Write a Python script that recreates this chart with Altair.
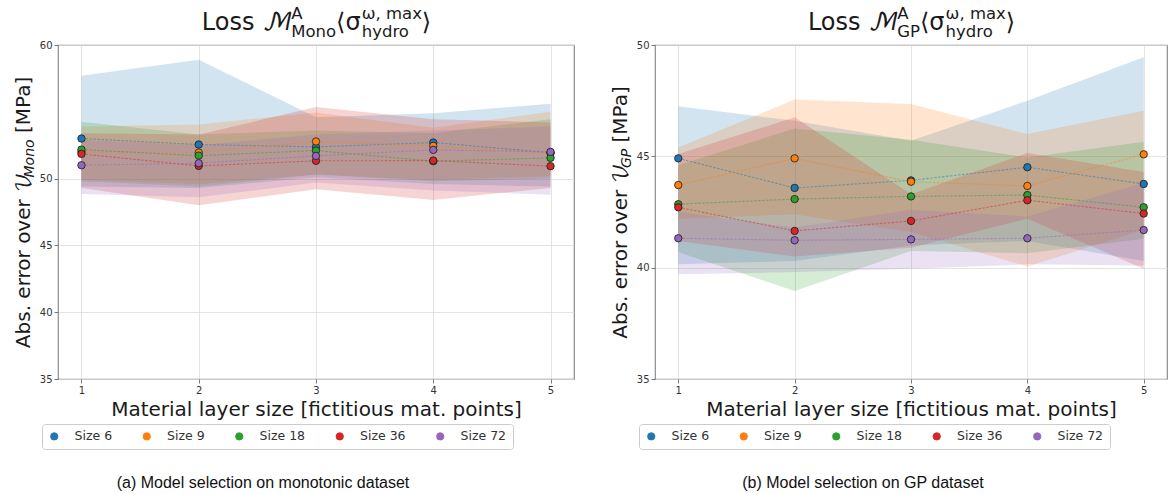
import altair as alt
import pandas as pd

series_names = ["Size 6", "Size 9", "Size 18", "Size 36", "Size 72"]
series_colors = ["#1f77b4", "#ff7f0e", "#2ca02c", "#d62728", "#9467bd"]
layer_sizes = [1, 2, 3, 4, 5]

# Monotonic dataset: mean absolute error and band limits, one row per network size
mono_mean = [
    [53.00, 52.55, 52.37, 52.70, 51.95],
    [52.00, 51.95, 52.78, 52.45, 51.90],
    [52.17, 51.72, 52.10, 51.30, 51.55],
    [51.85, 50.95, 51.33, 51.35, 50.93],
    [51.00, 51.15, 51.70, 52.15, 52.00],
]
mono_upper = [
    [57.70, 58.90, 54.60, 54.90, 55.60],
    [53.90, 54.05, 54.95, 53.80, 55.00],
    [54.25, 53.30, 53.60, 53.40, 54.45],
    [53.40, 53.30, 55.35, 54.45, 54.20],
    [52.90, 52.50, 53.30, 53.60, 53.90],
]
mono_lower = [
    [49.40, 49.30, 50.10, 49.60, 49.40],
    [49.90, 49.60, 50.30, 49.90, 50.20],
    [49.80, 49.40, 50.30, 49.80, 50.00],
    [49.30, 48.00, 49.20, 48.40, 49.30],
    [48.85, 48.60, 49.70, 49.10, 48.80],
]

# GP dataset
gp_mean = [
    [44.91, 43.58, 43.92, 44.51, 43.76],
    [43.71, 44.91, 43.86, 43.67, 45.09],
    [42.85, 43.08, 43.20, 43.26, 42.71],
    [42.71, 41.65, 42.10, 43.03, 42.43],
    [41.32, 41.23, 41.27, 41.32, 41.69],
]
gp_upper = [
    [47.25, 46.60, 45.70, 47.50, 49.45],
    [45.40, 47.55, 47.35, 46.00, 47.05],
    [44.60, 46.25, 45.75, 44.95, 45.65],
    [45.10, 46.75, 43.30, 45.15, 44.30],
    [42.50, 41.80, 42.60, 42.30, 43.80],
]
gp_lower = [
    [40.15, 40.30, 41.00, 41.20, 40.30],
    [42.20, 42.40, 41.60, 40.05, 41.70],
    [40.70, 38.95, 40.75, 40.65, 41.30],
    [41.20, 40.50, 40.90, 42.20, 39.95],
    [39.70, 39.80, 39.95, 40.15, 40.10],
]

mono_ticks = [35, 40, 45, 50, 60]
gp_ticks = [35, 40, 45, 50]

FONT = "DejaVu Sans"
MATH_FONT = "DejaVu Math TeX Gyre, DejaVu Sans"
TEXT = "#1a1a1a"

# DejaVu Sans advance widths (font units per 2048 em) for laying out composed labels
ADV = {" ": 651, ",": 651, ".": 651, "[": 799, "]": 799, "A": 1401, "G": 1577,
       "L": 1141, "M": 1767, "P": 1235, "a": 1255, "b": 1300, "d": 1300,
       "e": 1260, "h": 1298, "m": 1995, "n": 1298, "o": 1253, "r": 842,
       "s": 1067, "v": 1212, "x": 1212, "y": 1212, "\u03c3": 1300,
       "\u03c9": 1700, "\u27e8": 800, "\u27e9": 800, "\u2133": 2450,
       "\U0001d4b1": 1500}


def adv(text, size):
    return sum(ADV.get(ch, 1250) for ch in text) / 2048.0 * size


one_row = pd.DataFrame({"k": [0]})


def piece(text, px, py, size, align="left", angle=0, italic=False,
          font=FONT, color=TEXT):
    return alt.Chart(one_row).mark_text(
        text=text, fontSize=size, align=align, baseline="alphabetic",
        angle=angle, font=font, fontStyle="italic" if italic else "normal",
        color=color,
    ).encode(x=alt.value(px), y=alt.value(py))


def title_pieces(sub, cx):
    big, small = 24, 16.5
    base, sup, low = -15, -26, -8
    w1 = adv("Loss ", big)
    wm = adv("\u2133", big)
    w2 = max(adv("A", small), adv(sub, small))
    w3 = adv("\u27e8\u03c3", big)
    w4 = max(adv("\u03c9, max", small), adv("hydro", small))
    w5 = adv("\u27e9", big)
    x0 = cx - (w1 + wm + w2 + w3 + w4 + w5) / 2
    out = [piece("Loss", x0, base, big),
           piece("\u2133", x0 + w1, base, big, font=MATH_FONT)]
    x = x0 + w1 + wm
    out += [piece("A", x, sup, small), piece(sub, x, low, small)]
    x += w2
    out.append(piece("\u27e8\u03c3", x, base, big))
    x += w3
    out += [piece("\u03c9, max", x + 1, sup, small), piece("hydro", x + 1, low, small)]
    x += w4 + 1
    out.append(piece("\u27e9", x, base, big))
    return out


def ylabel_pieces(sub, height):
    big, small = 20, 14
    parts = [("Abs. error over", big, False, 0, FONT, adv("Abs. error over ", big)),
             ("\U0001d4b1", big, False, 0, MATH_FONT, adv("\U0001d4b1", big)),
             (sub, small, True, 4, FONT, adv(sub, small) + adv(" ", big)),
             ("[MPa]", big, False, 0, FONT, adv("[MPa]", big))]
    total = sum(p[5] for p in parts)
    y = height / 2 + total / 2
    out = []
    for t, s, it, dx, f, w in parts:
        out.append(piece(t, -28 + dx, y, s, angle=270, italic=it, font=f))
        y -= w
    return out


def frame(mean, lower, upper):
    rows = []
    for k, name in enumerate(series_names):
        for j, x in enumerate(layer_sizes):
            rows.append({"series": name, "band": name, "trace": name, "order": k,
                         "x": x, "mean": mean[k][j], "lo": lower[k][j],
                         "hi": upper[k][j]})
    return pd.DataFrame(rows)


def series_legend():
    return alt.Legend(
        title=None, orient="none", legendX=-16, legendY=379,
        direction="horizontal", columns=5, symbolType="circle",
        symbolSize=55, symbolStrokeColor="#1a1a1a", symbolStrokeWidth=0.8,
        symbolOpacity=1, labelFont=FONT, labelFontSize=12.5,
        labelColor="#333333", labelOffset=14, columnPadding=27.5,
        padding=6, strokeColor="#cccccc", fillColor="white", cornerRadius=3,
    )


def panel(df, ydomain, yticks, sub, caption, caption_x, width, height=334):
    xs = alt.Scale(domain=[0.8, 5.2], nice=False, zero=False)
    ys = alt.Scale(domain=ydomain, nice=False, zero=False)
    xaxis = alt.Axis(values=layer_sizes, format="d",
                     title="Material layer size [fictitious mat. points]")
    yaxis = alt.Axis(values=yticks, title=None)
    X = alt.X("x:Q", scale=xs, axis=xaxis)
    Ymean = alt.Y("mean:Q", scale=ys, axis=yaxis)
    cscale = alt.Scale(domain=series_names, range=series_colors)
    base = alt.Chart(df)

    # legend carrier: same markers, transparent, so the colour legend is kept
    key = base.mark_circle(size=55, opacity=0, stroke="#1a1a1a",
                           strokeWidth=0.8).encode(
        x=X, y=Ymean,
        color=alt.Color("series:N", scale=cscale, legend=series_legend()),
    )
    bands = base.mark_area(opacity=0.2).encode(
        x=X,
        y=alt.Y("lo:Q", scale=ys, axis=yaxis),
        y2="hi:Q",
        fill=alt.Fill("band:N", scale=cscale, legend=None),
    )
    lines = base.mark_line(strokeWidth=1.1, strokeDash=[2.5, 1.5], opacity=0.5).encode(
        x=X, y=Ymean,
        stroke=alt.Stroke("trace:N", scale=cscale, legend=None),
    )
    points = base.mark_point(size=55, filled=True, opacity=1, stroke="#1a1a1a",
                             strokeWidth=0.8, shape="circle").encode(
        x=X, y=Ymean,
        fill=alt.Fill("band:N", scale=cscale, legend=None),
        order=alt.Order("order:Q"),
    )
    deco = title_pieces(sub, width * 0.5) + ylabel_pieces(sub, height)
    deco.append(piece(caption, caption_x, 443, 16, align="center",
                      font="Liberation Sans", color="#111111"))
    return alt.layer(key, bands, lines, points, *deco).properties(
        width=width, height=height)


left = panel(frame(mono_mean, mono_lower, mono_upper), [35, 60], mono_ticks, "Mono",
             "(a) Model selection on monotonic dataset", 205, 516)
right = panel(frame(gp_mean, gp_lower, gp_upper), [35, 50], gp_ticks, "GP",
              "(b) Model selection on GP dataset", 208, 512)

chart = alt.hconcat(left, right, spacing=35).resolve_scale(
    color="independent", fill="independent", stroke="independent"
).resolve_legend(
    color="independent"
).properties(
    padding={"left": 13, "top": 5, "right": 5, "bottom": 0},
    background="white",
).configure_view(
    stroke="#8c8c8c", strokeWidth=1.2
).configure_axis(
    grid=True, gridColor="#dcdcdc", gridWidth=0.8, domain=False,
    tickColor="#555555", tickSize=4, tickWidth=0.8,
    labelFont=FONT, labelFontSize=10, labelColor="#333333", labelPadding=2,
    titleFont=FONT, titleFontSize=20, titleFontWeight="normal", titleColor=TEXT,
    titlePadding=4,
)

chart.save("out.html", embed_options={"renderer": "svg", "actions": False})
